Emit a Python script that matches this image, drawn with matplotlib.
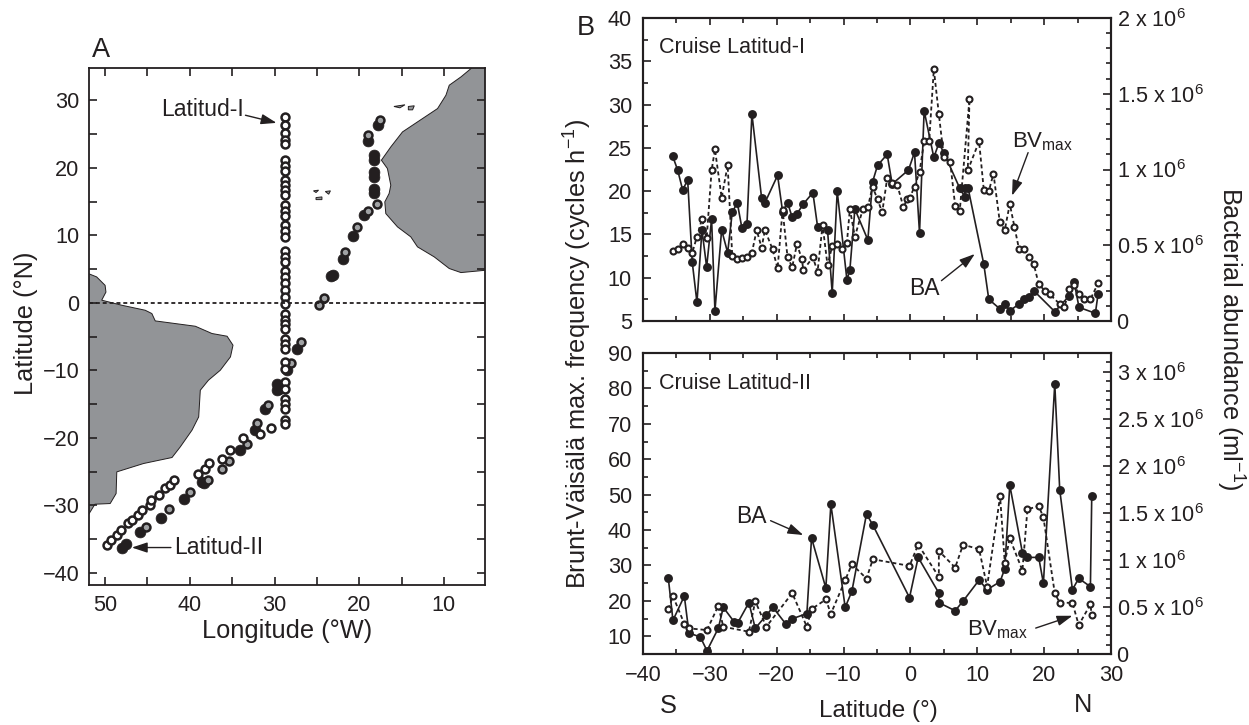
import numpy as np
import matplotlib
matplotlib.use('Agg')
import matplotlib.pyplot as plt
from matplotlib.ticker import MultipleLocator, FixedLocator, FixedFormatter

# panel A stations, lon (W) and lat
lat1_vert = [27.56, 26.32, 25.19, 24.2, 23.5, 21.14, 20.25, 19.56, 18.27, 17.43, 16.69, 15.95,
             14.47, 13.63, 12.84, 11.51, 10.67, 9.78, 7.7, 6.81, 6.07, 4.74, 3.85, 2.96, 1.88,
             0.89, -0.1, -1.58, -2.57, -3.16, -3.8, -5.28, -6.02, -6.77, -8.74, -9.73, -11.7,
             -12.69, -14.17, -14.91, -15.65, -17.28, -17.88]
lat1_lon = [49.8, 49.29, 48.62, 48.07, 47.32, 46.84, 46.06, 45.66, 44.75, 44.6, 43.61, 42.9,
            42.39, 41.91, 39.03, 38.24, 37.77, 36.19, 35.21, 33.75, 31.74, 30.36]
lat1_lat = [-35.8, -35.16, -34.32, -33.68, -32.59, -32.2, -31.46, -30.62, -29.98, -29.23, -28.4,
            -27.41, -26.91, -26.27, -25.28, -24.64, -23.7, -23.06, -21.83, -19.95, -19.46, -18.47]
grey_lon = [45.19, 42.47, 39.94, 37.89, 35.4, 36.19, 33.23, 32.01, 30.79, 28.07, 26.92, 24.75,
            24.16, 21.68, 20.3, 18.96, 17.93, 17.57, 18.96]
grey_lat = [-33.28, -30.52, -28.0, -26.27, -23.41, -24.54, -20.94, -17.78, -15.06, -8.89, -5.78,
            -0.25, 0.74, 7.56, 11.26, 13.63, 14.62, 27.06, 24.84]
lat2_lon = [48.03, 47.55, 45.86, 43.41, 40.65, 38.56, 38.28, 34.02, 32.33, 31.14, 27.32, 28.58,
            29.68, 29.68, 29.49, 23.29, 23.1, 21.91, 20.69, 19.43, 18.2, 18.2, 18.2, 18.2, 18.2,
            18.2, 17.73, 18.96]
lat2_lat = [-36.3, -35.75, -33.93, -31.8, -28.99, -26.52, -26.67, -21.83, -18.77, -15.7, -6.77,
            -9.88, -11.95, -12.94, -12.69, 3.95, 4.1, 6.57, 9.93, 13.09, 21.88, 21.23, 19.41,
            18.67, 16.94, 16.3, 26.32, 23.95]

# coast outlines
africa_lon = [6.8, 6.8, 7.99, 9.37, 9.76, 10.75, 13.12, 14.89, 16.27, 17.38, 16.67, 16.27, 16.47,
              16.98, 16.86, 15.48, 13.91, 13.12, 11.14, 9.37, 7.99, 5.03, 3, 3]
africa_lat = [36, 34.72, 33.48, 32.25, 30.77, 28.79, 26.81, 25.33, 23.11, 21.14, 19.9, 17.43, 16.2,
              14.96, 13.23, 11.26, 9.78, 8.3, 6.81, 5.09, 4.49, 4.84, 4.9, 36]
samerica_lon = [54, 52, 51, 50, 49.9, 50.4, 48.03, 45.27, 44.48, 44.08, 39.35, 37.38, 35.6, 34.9,
                35.2, 36.4, 37.8, 38.76, 38.95, 39.74, 41.12, 42.1, 45.46, 48.62, 48.7, 49.4,
                51.2, 52, 54]
samerica_lat = [4.35, 4.35, 3.85, 2.6, 1.6, 0.4, -0.35, -1.09, -1.58, -2.67, -3.46, -4.54, -4.94,
                -6.27, -8, -9.98, -11.46, -12.94, -16.89, -18.86, -21.33, -22.91, -23.8, -25.04,
                -28.25, -29.73, -29.83, -31.46, -31.46]
islands = [([15.9, 14.6, 15.2], [29.1, 29.35, 28.9]),
           ([14.2, 13.5, 13.7, 14.2], [29.1, 29.2, 28.6, 28.6]),
           ([25.4, 24.8, 25.1], [16.6, 16.7, 16.35]),
           ([24.0, 23.4, 23.6], [16.5, 16.6, 16.1]),
           ([25.1, 24.4, 24.4, 25.1], [15.6, 15.7, 15.3, 15.3])]

# panel B, Latitud-I
ba1_x = [-35.57, -34.82, -34.07, -33.32, -32.63, -31.93, -31.18, -30.48, -29.74, -29.24, -28.24,
         -27.34, -26.65, -25.9, -25.2, -24.45, -23.71, -22.26, -21.76, -19.87, -19.12, -18.38,
         -17.68, -16.98, -16.03, -14.59, -13.89, -12.4, -11.7, -10.95, -9.5, -9.06, -8.31, -6.37,
         -5.67, -4.92, -3.48, -2.73, -0.29, 0.61, 1.36, 2.05, 3.5, 4.25, 5.0, 7.38, 8.13, 8.13,
         8.63, 10.97, 11.72, 13.36, 14.11, 14.86, 16.25, 17.0, 17.75, 18.45, 21.59, 23.73, 24.47,
         25.22, 27.66, 28.06]
ba1 = [1.089, 0.997, 0.865, 0.931, 0.387, 0.123, 0.601, 0.356, 0.673, 0.068, 0.601, 0.451, 0.717,
       0.781, 0.612, 0.640, 1.366, 0.812, 0.781, 0.961, 0.722, 0.781, 0.684, 0.706, 0.772, 0.847,
       0.623, 0.601, 0.185, 0.856, 0.271, 0.337, 0.739, 0.535, 0.917, 1.027, 1.100, 0.904, 0.997,
       1.113, 0.581, 1.388, 1.080, 1.173, 1.111, 0.876, 0.821, 0.876, 0.876, 0.376, 0.143, 0.081,
       0.112, 0.068, 0.112, 0.143, 0.156, 0.200, 0.062, 0.165, 0.260, 0.090, 0.051, 0.176]
bv1_x = [-35.57, -34.82, -34.07, -33.32, -32.63, -31.93, -31.18, -30.48, -29.74, -29.24, -28.24,
         -27.34, -26.65, -25.9, -25.2, -24.45, -23.71, -23.0, -22.26, -21.76, -20.62, -19.87,
         -19.12, -18.38, -17.68, -16.98, -16.23, -16.03, -14.59, -13.89, -13.14, -12.4, -11.7,
         -10.95, -10.25, -9.5, -9.06, -8.31, -7.11, -6.37, -5.67, -4.92, -4.22, -3.48, -2.73,
         -1.98, -1.04, -0.54, -0.09, 0.61, 1.36, 2.05, 2.8, 3.5, 4.25, 5.0, 5.95, 6.69, 7.38,
         8.83, 8.58, 10.27, 10.97, 11.72, 12.42, 13.36, 14.11, 14.86, 15.55, 16.25, 17.0, 17.75,
         18.45, 19.19, 20.14, 20.84, 22.33, 23.03, 23.73, 24.47, 25.22, 25.92, 26.92, 28.06]
bv1 = [13.12, 13.28, 13.89, 13.43, 12.89, 14.74, 16.78, 14.55, 22.4, 24.83, 19.25, 22.98, 12.51,
       12.12, 12.32, 12.43, 12.89, 15.51, 13.47, 15.51, 13.28, 11.08, 17.82, 12.35, 11.24, 13.86,
       12.16, 10.89, 12.35, 10.7, 16.09, 11.43, 13.66, 13.86, 13.28, 14.05, 17.94, 14.74, 17.94,
       18.13, 20.52, 19.05, 17.55, 21.48, 20.9, 20.75, 18.13, 19.05, 19.25, 20.52, 22.21, 25.75,
       25.75, 34.07, 28.91, 23.91, 23.33, 18.32, 17.75, 30.61, 22.4, 25.75, 20.17, 19.98, 22.02,
       16.47, 15.51, 18.52, 15.9, 13.28, 13.28, 12.35, 11.58, 9.24, 8.47, 8.08, 6.96, 6.58, 8.66,
       9.16, 8.08, 7.5, 7.5, 9.35]

# panel B, Latitud-II
ba2_x = [-36.21, -35.52, -33.82, -33.12, -31.43, -30.43, -28.74, -27.99, -26.35, -25.85, -24.16,
         -23.21, -21.56, -20.57, -18.67, -17.68, -15.49, -14.79, -12.65, -11.9, -9.76, -8.76,
         -6.57, -5.62, -0.14, 1.16, 4.25, 4.25, 6.69, 7.88, 10.27, 11.47, 13.41, 14.11, 14.86,
         16.75, 17.5, 19.19, 19.89, 21.59, 22.33, 24.23, 25.17, 26.92, 27.12]
ba2 = [0.804, 0.358, 0.616, 0.223, 0.181, 0.035, 0.273, 0.496, 0.340, 0.329, 0.546, 0.273, 0.411,
       0.496, 0.322, 0.375, 0.429, 1.233, 0.701, 1.591, 0.496, 0.666, 1.488, 1.371, 0.599, 1.027,
       0.648, 0.546, 0.460, 0.563, 0.786, 0.684, 0.769, 0.907, 1.796, 1.077, 1.027, 1.027, 0.751,
       2.873, 1.746, 0.684, 0.804, 0.716, 1.676]
bv2_x = [-36.21, -35.52, -33.82, -33.12, -30.43, -28.74, -27.99, -24.16, -23.21, -21.56, -17.68,
         -15.49, -14.79, -12.65, -11.9, -9.76, -8.76, -6.57, -5.62, -0.14, 1.16, 4.25, 4.25, 6.69,
         7.88, 10.27, 11.47, 13.41, 14.11, 14.86, 16.75, 17.5, 19.19, 19.89, 21.59, 22.33, 24.23,
         25.17, 26.92, 27.12]
bv2 = [17.68, 21.34, 13.54, 12.23, 11.76, 18.62, 12.7, 11.29, 19.93, 12.7, 22.18, 12.7, 17.68,
       20.4, 16.36, 25.85, 30.35, 26.31, 31.76, 29.88, 35.89, 26.78, 34.11, 29.41, 35.89, 34.58,
       24.06, 49.51, 30.82, 37.68, 28.57, 45.85, 46.78, 43.59, 22.18, 19.46, 19.46, 13.17, 18.99,
       15.89]

lat_ticks = [30, 20, 10, 0, -10, -20, -30, -40]
ab1_ticks = [0, 0.5, 1, 1.5, 2]
ab1_labels = ['0', r'0.5 x 10$^{6}$', r'1 x 10$^{6}$', r'1.5 x 10$^{6}$', r'2 x 10$^{6}$']
ab2_ticks = [0, 0.5, 1, 1.5, 2, 2.5, 3]
ab2_labels = ['0', r'0.5 x 10$^{6}$', r'1 x 10$^{6}$', r'1.5 x 10$^{6}$', r'2 x 10$^{6}$',
              r'2.5 x 10$^{6}$', r'3 x 10$^{6}$']

ink = '#231f20'
plt.rcParams['font.family'] = ['Liberation Sans', 'DejaVu Sans']
plt.rcParams['mathtext.fontset'] = 'custom'
plt.rcParams['mathtext.rm'] = 'Liberation Sans'
plt.rcParams['mathtext.default'] = 'regular'
plt.rcParams['axes.unicode_minus'] = False
plt.rcParams['text.color'] = ink
plt.rcParams['xtick.labelcolor'] = ink
plt.rcParams['ytick.labelcolor'] = ink
plt.rcParams['font.size'] = 15.6

W, H = 1249, 725
fig = plt.figure(figsize=(W / 100, H / 100), dpi=100)


def box(left, top, right, bottom):
    return [left / W, 1 - bottom / H, (right - left) / W, (bottom - top) / H]


def label(x, y, s, **kw):
    # figure text placed by pixel position
    kw.setdefault('ha', 'center')
    fig.text(x / W, 1 - y / H, s, va='center', **kw)


def arrow(ax, start, end):
    ax.annotate('', xy=end, xytext=start, zorder=10,
                arrowprops=dict(arrowstyle='-|>,head_width=0.2,head_length=0.6', lw=1, color=ink,
                                shrinkA=0, shrinkB=0))


# map panel
axA = fig.add_axes(box(89, 68, 485, 585))
for lon, lat in [(africa_lon, africa_lat), (samerica_lon, samerica_lat)] + islands:
    axA.fill(lon, lat, facecolor='#929497', edgecolor=ink, lw=0.7, zorder=1)
axA.plot(lat2_lon, lat2_lat, 'o', ms=7.8, mfc=ink, mec=ink, mew=0.5, zorder=3)
axA.plot(grey_lon, grey_lat, 'o', ms=5.7, mfc='#a0a2a4', mec=ink, mew=1.8, zorder=4)
axA.plot(lat1_lon, lat1_lat, 'o', ms=5.7, mfc='white', mec=ink, mew=1.8, zorder=4)
axA.plot([28.8] * len(lat1_vert), lat1_vert, 'o', ms=5.7, mfc='white', mec=ink, mew=1.8, zorder=4)
axA.axhline(0, color=ink, lw=1.3, ls=(0, (2.2, 1.6)), zorder=5)
axA.set_xlim(51.9, 5.15)
axA.set_ylim(-41.8, 34.8)
axA.set_xticks([50, 45, 40, 35, 30, 25, 20, 15, 10])
axA.set_xticklabels(['50', '', '40', '', '30', '', '20', '', '10'])
axA.set_yticks(np.arange(-40, 35, 5))
axA.set_yticklabels([('\u2212' + str(-v) if v < 0 else str(v)) if v in lat_ticks else ''
                     for v in np.arange(-40, 35, 5)])
axA.tick_params(direction='in', length=5.8, width=1.2, top=True, right=True, pad=7, color=ink)
axA.text(33.6, 28.7, 'Latitud-I', ha='right', va='center', fontsize=16.5, zorder=10)
arrow(axA, (33.43, 27.8), (29.76, 26.67))
axA.text(41.83, -36.3, 'Latitud-II', ha='left', va='center', fontsize=16.5, zorder=10)
arrow(axA, (42.23, -36.25), (46.84, -36.25))
for s in axA.spines.values():
    s.set_linewidth(1.3)
    s.set_color(ink)

# Latitud-I profile
ax1 = fig.add_axes(box(643, 18, 1111, 321))
ax1r = ax1.twinx()
ax1r.plot(ba1_x, ba1, '-o', color=ink, lw=1.2, ms=6.4, mfc=ink, mec=ink, mew=0)
ax1.plot(bv1_x, bv1, color=ink, lw=1.3, ls=(0, (2.2, 1.6)), marker='o', ms=4.3, mfc='white',
         mec=ink, mew=1.5)
ax1.set_zorder(ax1r.get_zorder() + 1)
ax1.patch.set_visible(False)
ax1.set_xlim(-40, 30)
ax1.set_ylim(5, 40)
ax1r.set_ylim(0, 2)
ax1.yaxis.set_major_locator(MultipleLocator(5))
ax1.yaxis.set_minor_locator(MultipleLocator(2.5))
ax1.xaxis.set_major_locator(MultipleLocator(10))
ax1.xaxis.set_minor_locator(MultipleLocator(5))
ax1.tick_params(axis='x', labelbottom=False)
ax1r.yaxis.set_major_locator(FixedLocator(ab1_ticks))
ax1r.yaxis.set_major_formatter(FixedFormatter(ab1_labels))
ax1r.yaxis.set_minor_locator(MultipleLocator(0.1))
ax1.text(-37.6, 36.6, 'Cruise Latitud-I', fontsize=15.5, va='center')
ax1.text(15.16, 25.67, r'BV$_{max}$', fontsize=16, va='center')
arrow(ax1, (17.6, 24.45), (15.2, 19.48))
ax1.text(4.4, 8.8, 'BA', fontsize=16.5, va='center', ha='right')
arrow(ax1, (4.64, 9.66), (9.63, 12.74))

# Latitud-II profile
ax2 = fig.add_axes(box(643, 353, 1111, 654))
ax2r = ax2.twinx()
ax2r.plot(ba2_x, ba2, '-o', color=ink, lw=1.2, ms=6.4, mfc=ink, mec=ink, mew=0)
ax2.plot(bv2_x, bv2, color=ink, lw=1.3, ls=(0, (2.2, 1.6)), marker='o', ms=4.3, mfc='white',
         mec=ink, mew=1.5)
ax2.set_zorder(ax2r.get_zorder() + 1)
ax2.patch.set_visible(False)
ax2.set_xlim(-40, 30)
ax2.set_ylim(5, 90)
ax2r.set_ylim(0, 3.2)
ax2.set_yticks(np.arange(10, 100, 10))
ax2.yaxis.set_minor_locator(MultipleLocator(5))
ax2.xaxis.set_minor_locator(MultipleLocator(5))
ax2.set_xticks([-40, -30, -20, -10, 0, 10, 20, 30])
ax2.set_xticklabels(['\u221240', '\u221230', '\u221220', '\u221210', '0', '10', '20', '30'])
ax2r.yaxis.set_major_locator(FixedLocator(ab2_ticks))
ax2r.yaxis.set_major_formatter(FixedFormatter(ab2_labels))
ax2r.yaxis.set_minor_locator(MultipleLocator(0.1))
ax2.text(-37.6, 81.4, 'Cruise Latitud-II', fontsize=15.5, va='center')
ax2.text(-21.46, 43.8, 'BA', fontsize=16.5, va='center', ha='right')
arrow(ax2, (-20.92, 42.65), (-16.03, 38.6))
ax2.text(8.43, 11.8, r'BV$_{max}$', fontsize=16, va='center')
arrow(ax2, (18.74, 12.32), (24.23, 15.8))

for a in [ax1, ax2]:
    a.tick_params(which='major', axis='y', direction='in', length=6, width=1.2, color=ink, pad=8)
    a.tick_params(which='minor', axis='y', direction='in', length=3.5, width=1.2, color=ink)
    a.tick_params(which='major', axis='x', direction='in', length=5, width=1.2, color=ink,
                  pad=8, top=True)
    a.tick_params(which='minor', axis='x', direction='in', length=3.5, width=1.2, color=ink,
                  top=True)
    for s in a.spines.values():
        s.set_linewidth(1.5)
        s.set_color(ink)
for a in [ax1r, ax2r]:
    a.tick_params(which='major', axis='y', direction='in', length=6, width=1.2, color=ink, pad=4)
    a.tick_params(which='minor', axis='y', direction='in', length=3.5, width=1.2, color=ink)
    for s in a.spines.values():
        s.set_linewidth(1.5)
        s.set_color(ink)

label(101, 50, 'A', fontsize=19.5)
label(586, 28, 'B', fontsize=19.5)
label(287, 631, 'Longitude (°W)', fontsize=18.3)
label(26, 323, 'Latitude (°N)', fontsize=18.3, rotation=90)
label(578, 354, 'Brunt-Väisälä max. frequency (cycles h$^{-1}$)', fontsize=18.3, rotation=90)
label(1230, 339, 'Bacterial abundance (ml$^{-1}$)', fontsize=18.3, rotation=270)
label(878, 711, 'Latitude (°)', fontsize=17.5)
label(668, 706, 'S', fontsize=18.3)
label(1083, 705, 'N', fontsize=18.3)

fig.savefig('out.png', dpi=100)
